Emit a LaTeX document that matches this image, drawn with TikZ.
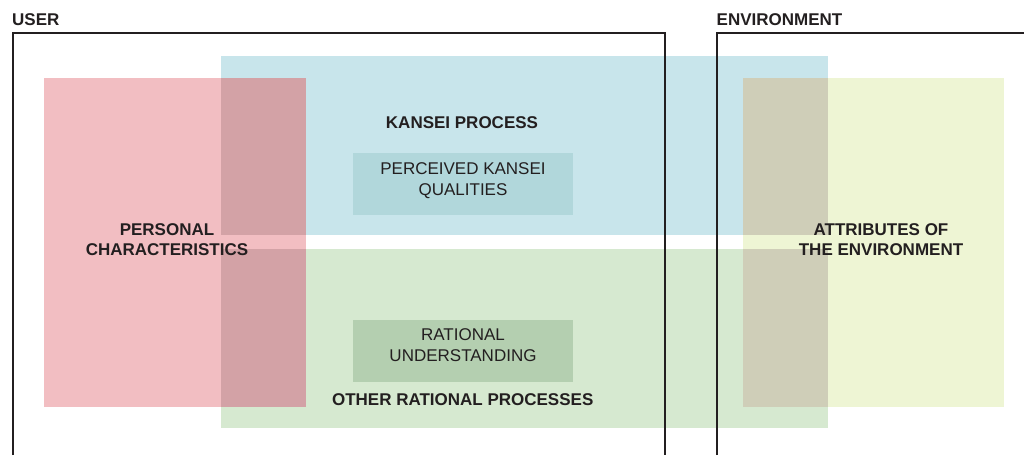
\documentclass[tikz,border=0pt]{standalone}
\usepackage{fontspec}
\setmainfont{Liberation Sans}
\definecolor{ink}{HTML}{231F20}
\definecolor{kblue}{HTML}{C8E5EB}
\definecolor{rgreen}{HTML}{D6E9D0}
\definecolor{ppink}{HTML}{F2BEC2}
\definecolor{pinkov}{HTML}{D3A2A6}
\definecolor{yel}{HTML}{EEF5D4}
\definecolor{yelov}{HTML}{CFCEB8}
\definecolor{pkq}{HTML}{B1D7DB}
\definecolor{rub}{HTML}{B4CFB0}
\begin{document}
\begin{tikzpicture}[x=1pt,y=-1pt,
  lbl/.style={font=\fontsize{17}{20}\selectfont\bfseries, text=ink, inner sep=0pt, anchor=base},
  reg/.style={font=\fontsize{17}{20}\selectfont, text=ink, inner sep=0pt, anchor=base},
  frame/.style={draw=ink, line width=1.7pt, line join=miter}]
\useasboundingbox (0,0) rectangle (1024,455);
% process areas
\fill[kblue] (221,56) rectangle (828,235);
\fill[rgreen] (221,249) rectangle (828,428);
\fill[ppink] (44,78) rectangle (306,406.7);
\fill[pinkov] (221,78) rectangle (306,235);
\fill[pinkov] (221,249) rectangle (306,406.7);
\fill[yel] (743,78) rectangle (1004,406.7);
\fill[yelov] (743,78) rectangle (828,235);
\fill[yelov] (743,249) rectangle (828,406.7);
\fill[pkq] (353,152.7) rectangle (573,215);
\fill[rub] (353,320) rectangle (573,381.7);
% frames
\draw[frame] (12.7,455) -- (12.7,33.3) -- (664.7,33.3) -- (664.7,455);
\draw[frame] (717.3,455) -- (717.3,33.3) -- (1025,33.3);
% labels
\node[lbl, anchor=base west] (user) at (12,25.3) {USER};
\node[lbl, anchor=base west] (env) at (716.5,25) {ENVIRONMENT};
\node[lbl] (kp) at (462,128) {KANSEI PROCESS};
\node[reg] (pkq1) at (463,174) {PERCEIVED KANSEI};
\node[reg] (pkq2) at (463,195) {QUALITIES};
\node[reg] (ru1) at (463,340.7) {RATIONAL};
\node[reg] (ru2) at (463,361.7) {UNDERSTANDING};
\node[lbl] (orp) at (462.7,405) {OTHER RATIONAL PROCESSES};
\node[lbl] (pc1) at (167,235) {PERSONAL};
\node[lbl] (pc2) at (167,255.3) {CHARACTERISTICS};
\node[lbl] (ae1) at (881,235) {ATTRIBUTES OF};
\node[lbl] (ae2) at (881,255.7) {THE ENVIRONMENT};
\end{tikzpicture}
\end{document}
